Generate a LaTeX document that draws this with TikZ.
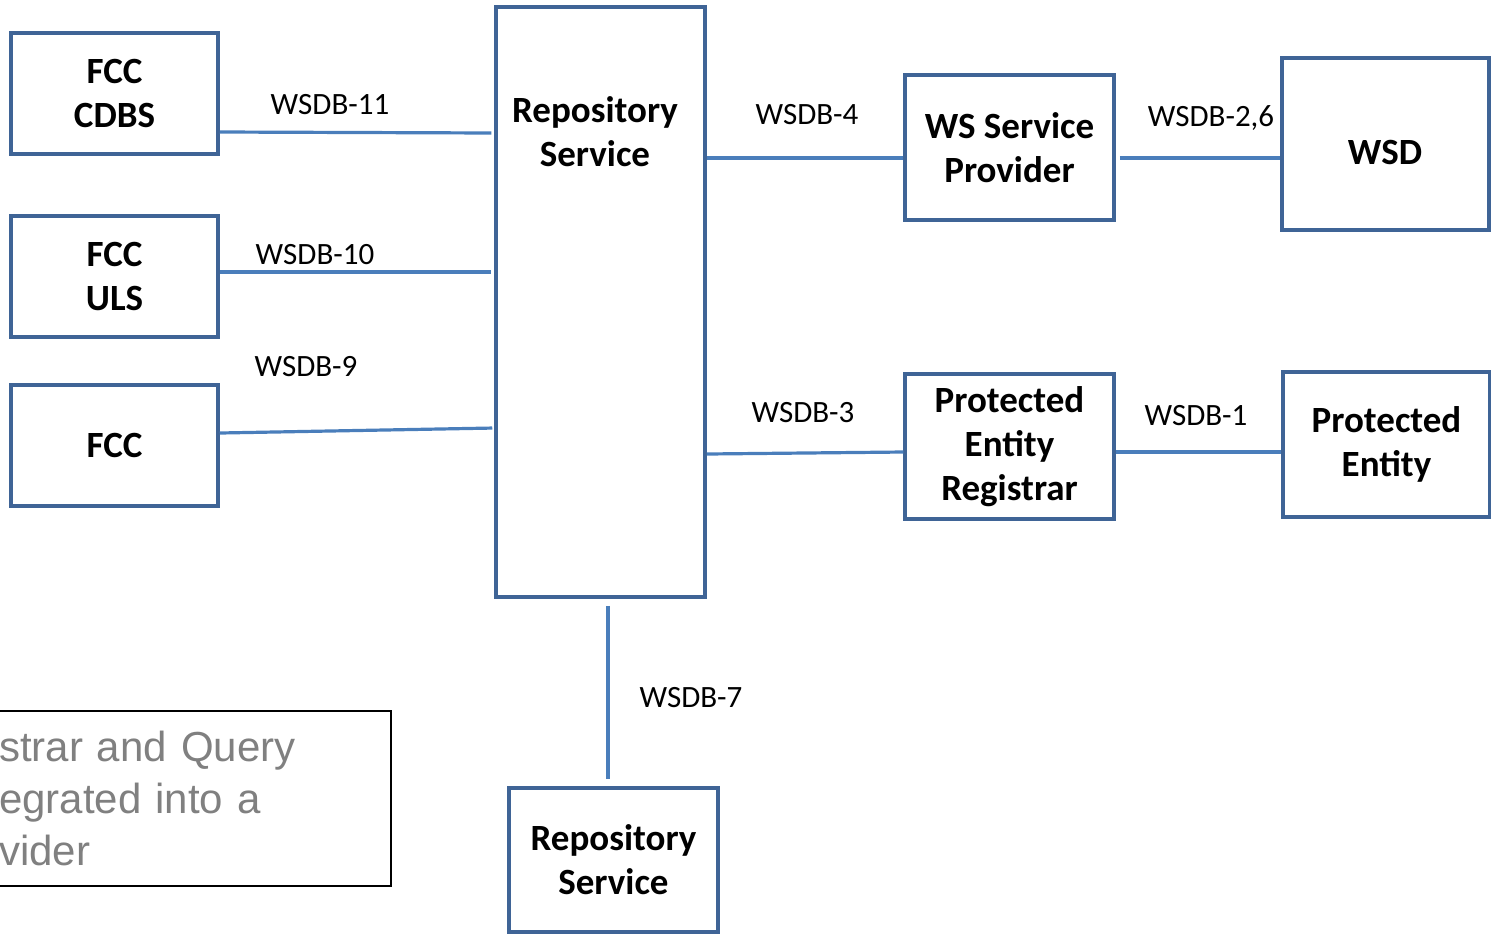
\documentclass[tikz,border=0pt]{standalone}
\usepackage{fontspec}
\setmainfont{Carlito}
\newfontfamily\notefont{Liberation Sans}
\usetikzlibrary{calc}
\definecolor{boxblue}{HTML}{3F6496}
\definecolor{lineblue}{HTML}{4A7EBB}
\definecolor{notegray}{HTML}{808080}

\begin{document}
\begin{tikzpicture}[x=0.5pt, y=-0.5pt]
     		%define block styles
     		\tikzset{
     			block/.style={rectangle, minimum width=103.5pt, minimum height=60.5pt, align=center, draw=boxblue, line width=1.75pt, font=\fontsize{18.5}{22}\selectfont\bfseries},
     			title/.style={align=center, font=\fontsize{18.5}{22}\selectfont\bfseries},
     			link/.style={lineblue, line width=1.6pt},
     			linklabel/.style={font=\fontsize{15.5}{18}\selectfont},
     			notebox/.style={rectangle, draw=black, line width=1pt, minimum width=206pt, minimum height=87.5pt, text width=186pt, inner xsep=10pt, align=left, text=notegray, font=\notefont\fontsize{21}{26}\selectfont},}
     		\useasboundingbox (0,0) rectangle (1491,933);
     		%define nodes
     		\node[block](cdbs) at (114.5,93.5){FCC\\CDBS};
     		\node[block](uls) at (114.5,276.5){FCC\\ULS};
     		\node[block](fcc) at (114.5,445.5){FCC};
     		\node[block, minimum width=104.5pt, minimum height=295pt](repo) at (600.5,302){};
     		\node[title](repotitle) at (595,132){Repository\\Service};
     		\node[block, minimum width=104.5pt, minimum height=72.5pt](wssp) at (1009.5,147.5){WS Service\\Provider};
     		\node[block, minimum height=86pt](wsd) at (1385.5,144){};
     		\node[title](wsdtitle) at (1385,152){WSD};
     		\node[block, minimum width=104.5pt, minimum height=72.5pt](per) at (1009.5,446.5){Protected\\Entity\\Registrar};
     		\node[block, minimum height=72.5pt](pe) at (1386.5,444.5){Protected\\Entity};
     		\node[block, minimum width=104.5pt, minimum height=72pt](repo2) at (613.5,860){Repository\\Service};
     		\node[notebox, anchor=north east](note) at (392,710){strar and Query\\egrated into a\\vider};
     		%define lines
     		\draw[link, shorten >=1.5pt] ([yshift=-19.25pt]cdbs.east) -- ([yshift=-19.75pt]cdbs.east -| repo.west);
     		\draw[link, shorten >=1.5pt] ([yshift=2.25pt]uls.east) -- ([yshift=2.25pt]uls.east -| repo.west);
     		\draw[link, shorten >=1pt] ([yshift=6.25pt]fcc.east) -- ([yshift=8.75pt]fcc.east -| repo.west);
     		\draw[link] ([yshift=-5.25pt]wssp.west -| repo.east) -- ([yshift=-5.25pt]wssp.west);
     		\draw[link, shorten <=2pt] ([yshift=-7pt]wsd.west -| wssp.east) -- ([yshift=-7pt]wsd.west);
     		\draw[link] ([yshift=-3.75pt]per.west -| repo.east) -- ([yshift=-2.75pt]per.west);
     		\draw[link] ([yshift=-2.75pt]per.east) -- ([yshift=-2.75pt]per.east -| pe.west);
     		\draw[link, shorten <=3.5pt, shorten >=3.5pt] ([xshift=-2.75pt]repo2.north |- repo.south) -- ([xshift=-2.75pt]repo2.north);
     		%define labels
     		\node[linklabel](l11) at (330,105){WSDB-11};
     		\node[linklabel](l10) at (315,255){WSDB-10};
     		\node[linklabel](l9) at (306,367){WSDB-9};
     		\node[linklabel](l4) at (807,115){WSDB-4};
     		\node[linklabel](l26) at (1211,118){WSDB-2,6};
     		\node[linklabel](l3) at (803,413){WSDB-3};
     		\node[linklabel](l1) at (1196,416){WSDB-1};
     		\node[linklabel](l7) at (691,698){WSDB-7};
     	\end{tikzpicture}
\end{document}
